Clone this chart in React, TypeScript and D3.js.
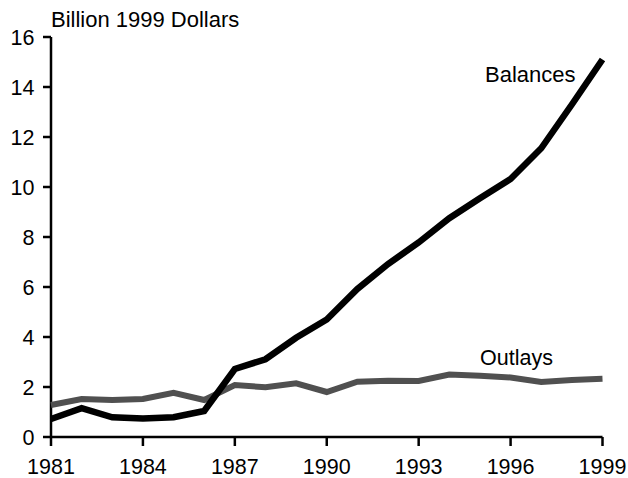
import React from "react";
import * as d3 from "d3";

const years = [1981, 1982, 1983, 1984, 1985, 1986, 1987, 1988, 1989, 1990, 1991, 1992, 1993, 1994, 1995, 1996, 1997, 1998, 1999];
const balances = [0.72, 1.15, 0.79, 0.74, 0.79, 1.04, 2.72, 3.11, 3.97, 4.7, 5.92, 6.92, 7.78, 8.75, 9.55, 10.32, 11.55, 13.3, 15.1];
const outlays = [1.28, 1.52, 1.48, 1.52, 1.77, 1.48, 2.08, 1.99, 2.15, 1.8, 2.21, 2.25, 2.24, 2.5, 2.45, 2.38, 2.2, 2.28, 2.33];
const xTicks = [1981, 1984, 1987, 1990, 1993, 1996, 1999];
const yTicks = [0, 2, 4, 6, 8, 10, 12, 14, 16];

export default function App() {
  const W = 628, H = 478;
  const x = d3.scaleLinear().domain([1981, 1999]).range([51, 602.5]);
  const y = d3.scaleLinear().domain([0, 16]).range([437, 37]);
  const line = d3.line<number>().x((_, i) => x(years[i])).y((d) => y(d));
  const font = "Liberation Sans, Arial, Helvetica, sans-serif";
  return (
    <svg width={W} height={H} style={{ position: "absolute", left: 0, top: 0, background: "#fff" }} fontFamily={font}>
      <text x={51} y={27} fontSize={22} fill="#000">Billion 1999 Dollars</text>
      {/* y axis */}
      <line x1={x(1981)} x2={x(1981)} y1={y(16)} y2={y(0)} stroke="#000" strokeWidth={2.5} />
      {yTicks.map((t) => (
        <g key={t}>
          <line x1={x(1981) - 8} x2={x(1981)} y1={y(t)} y2={y(t)} stroke="#000" strokeWidth={2.5} />
          <text x={34.5} y={y(t)} dy="0.36em" textAnchor="end" fontSize={21.5} fill="#000">{t}</text>
        </g>
      ))}
      {/* x axis */}
      <line x1={x(1981)} x2={x(1999)} y1={y(0)} y2={y(0)} stroke="#000" strokeWidth={2.5} />
      {xTicks.map((t) => (
        <g key={t}>
          <line x1={x(t)} x2={x(t)} y1={y(0)} y2={y(0) + 9} stroke="#000" strokeWidth={2.5} />
          <text x={x(t)} y={473.5} textAnchor="middle" fontSize={21.5} fill="#000">{t}</text>
        </g>
      ))}
      <path d={line(outlays) || ""} fill="none" stroke="#505050" strokeWidth={6} strokeLinejoin="miter" />
      <path d={line(balances) || ""} fill="none" stroke="#000" strokeWidth={6.5} strokeLinejoin="miter" />
      <text x={485} y={81.5} fontSize={22} fill="#000">Balances</text>
      <text x={480} y={364.5} fontSize={21.5} fill="#000">Outlays</text>
    </svg>
  );
}
